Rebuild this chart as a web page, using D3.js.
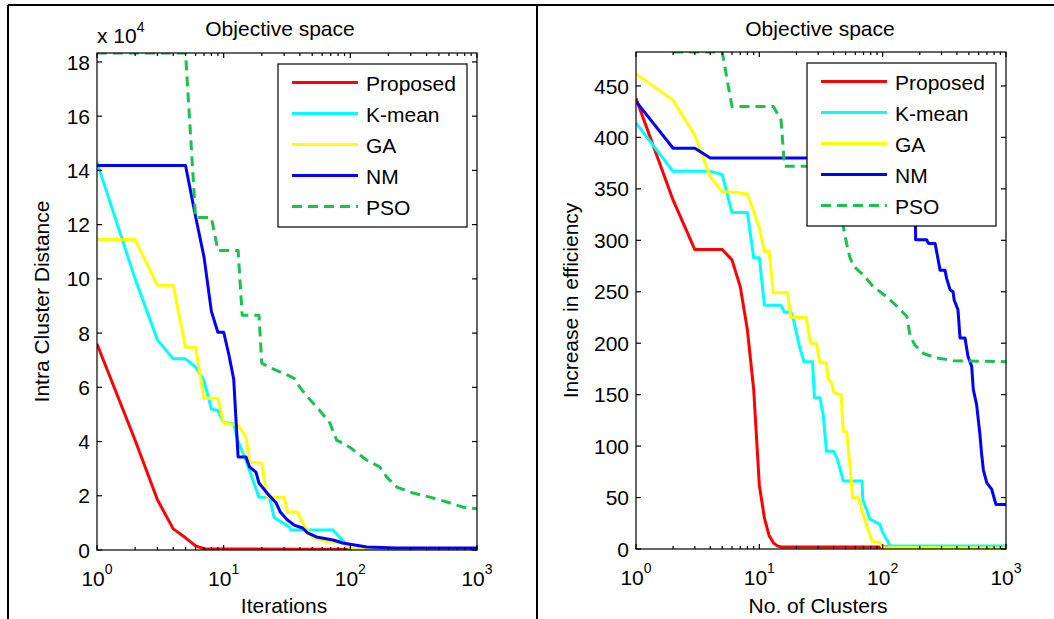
<!DOCTYPE html>
<html>
<head>
<meta charset="utf-8">
<script src="https://cdn.jsdelivr.net/npm/d3@7/dist/d3.min.js"></script>
<style>
    body { margin: 0; background: #ffffff; }
    svg text { font-family: "Liberation Sans", Arial, sans-serif; fill: #000; }
</style>
</head>
<body>
<div id="chart"></div>
<script>
/*jshint esversion: 6 */

// series shared by both panels
const seriesNames = ["Proposed", "K-mean", "GA", "NM", "PSO"];

// log x axis ticks
const xTicks = [1, 10, 100, 1000];
const xTickExponents = ["0", "1", "2", "3"];

const leftYTicks = [0, 2, 4, 6, 8, 10, 12, 14, 16, 18];
const rightYTicks = [0, 50, 100, 150, 200, 250, 300, 350, 400, 450];

// left panel: [iteration, intra cluster distance in units of 10^4]
const distProposed = [[1, 7.6], [2, 4.05], [3, 1.85], [4, 0.78], [5, 0.45], [6, 0.15], [7, 0.05], [10, 0.04], [40, 0.03], [1000, 0.02]];
const distKmean = [[1, 14.3], [2, 10.0], [3, 7.75], [4, 7.05], [5, 7.05], [6, 6.75], [7, 6.25], [8, 5.2], [9, 5.15], [10, 4.7], [12, 4.65], [13, 4.0], [15, 3.3], [19, 1.95], [23, 1.95], [25, 1.2], [33, 0.85], [34, 0.74], [73, 0.74], [87, 0.35], [100, 0.05], [1000, 0.05]];
const distGA = [[1, 11.45], [2, 11.45], [3, 9.76], [4, 9.76], [5, 7.48], [6, 7.48], [7, 5.6], [9, 5.6], [10, 4.68], [13, 4.6], [15, 4.16], [16, 3.24], [20, 3.2], [22, 1.95], [30, 1.95], [32, 1.4], [38, 1.4], [44, 0.85], [50, 0.48], [65, 0.3], [87, 0.26], [100, 0.07], [1000, 0.05]];
const distNM = [[1, 14.18], [5, 14.18], [6, 12.3], [7, 10.8], [8, 8.8], [9, 8.03], [10, 8.03], [11, 7.2], [12, 6.3], [13, 3.43], [15, 3.43], [16, 3.06], [18, 2.87], [19, 2.47], [22, 2.1], [26, 1.73], [28, 1.4], [32, 1.1], [36, 0.92], [42, 0.81], [46, 0.63], [54, 0.48], [73, 0.37], [87, 0.26], [135, 0.11], [233, 0.07], [1000, 0.07]];
const distPSO = [[1, 18.33], [5, 18.33], [6, 12.26], [8, 12.26], [9, 11.05], [13, 11.05], [14, 8.66], [19, 8.66], [20, 6.89], [24, 6.7], [32, 6.45], [36, 6.33], [40, 6.0], [46, 5.64], [57, 5.16], [69, 4.68], [78, 4.05], [99, 3.79], [135, 3.31], [171, 3.06], [194, 2.69], [233, 2.32], [313, 2.1], [424, 1.95], [578, 1.77], [775, 1.58], [1000, 1.52]];

// right panel: [number of clusters, increase in efficiency]
const effProposed = [[1, 438], [2, 339], [3, 291], [5, 291], [6, 281], [7, 255], [8, 213], [9, 155], [10, 62], [11, 30], [12, 13], [13, 6], [14, 3], [15, 2], [1000, 2]];
const effKmean = [[1, 414], [2, 367], [4, 367], [5, 364], [6, 327], [8, 327], [9, 283], [10, 283], [11, 237], [15, 237], [16, 230], [18, 230], [19, 222], [20, 210], [21, 198], [23, 182], [27, 182], [28, 147], [31, 147], [33, 130], [35, 95], [40, 95], [43, 87], [48, 66], [68, 66], [69, 48], [79, 29], [95, 24], [100, 16], [108, 9], [115, 3], [1000, 3]];
const effGA = [[1, 462], [2, 436], [3, 402], [4, 362], [5, 347], [6, 347], [8, 345], [9, 328], [10, 312], [11, 289], [12, 289], [13, 249], [17, 249], [18, 225], [24, 225], [26, 200], [29, 200], [31, 181], [35, 181], [36, 166], [39, 160], [40, 152], [46, 150], [48, 114], [51, 114], [54, 85], [57, 50], [63, 50], [69, 35], [76, 19], [82, 7.6], [95, 6], [100, 1.5], [1000, 1]];
const effNM = [[1, 435], [2, 389.5], [3, 389.5], [4, 380], [183, 380], [185, 300.5], [227, 300.5], [235, 297], [266, 297], [274, 289], [292, 271], [320, 271], [330, 263], [352, 252], [372, 250], [380, 242], [408, 232.5], [424, 205], [465, 205], [492, 187], [527, 177.5], [543, 155], [578, 140], [615, 111], [635, 92], [655, 77], [698, 64.6], [766, 58], [815, 46.4], [830, 43.2], [1000, 43.2]];
const effPSO = [[2, 483], [5, 483], [6, 430], [13, 430], [15, 417], [16, 372], [32, 372], [38, 345], [45, 325], [48, 313], [51, 297], [54, 284], [58, 275], [70, 266], [84, 255], [108, 245], [130, 236], [157, 226], [167, 207], [183, 198], [214, 190], [266, 186], [374, 183], [1000, 182]];

(function (window) {

    let colors = ["#ff0000", "#00ffff", "#ffff00", "#0000ff", "#19c24f"];
    let dashes = [null, null, null, null, "10,6"];
    let fontSize = 21;

    let svg = d3.select("#chart").append("svg")
        .attr("width", 1054)
        .attr("height", 619);

    // frame of the surrounding table
    svg.append("line").attr("x1", 8).attr("x2", 1054).attr("y1", 5).attr("y2", 5)
        .style("stroke", "#000").style("stroke-width", 2);
    svg.append("line").attr("x1", 8).attr("x2", 8).attr("y1", 5).attr("y2", 619)
        .style("stroke", "#000").style("stroke-width", 2);
    svg.append("line").attr("x1", 537).attr("x2", 537).attr("y1", 5).attr("y2", 619)
        .style("stroke", "#000").style("stroke-width", 2);

    function drawPanel(cfg) {

        let x = d3.scaleLog().domain([1, 1000]).range([cfg.left, cfg.right]);
        let y = d3.scaleLinear().domain([0, cfg.yMax]).range([cfg.bottom, cfg.top]);

        let g = svg.append("g");

        g.append("clipPath").attr("id", cfg.id + "-clip")
            .append("rect")
            .attr("x", cfg.left).attr("y", cfg.top)
            .attr("width", cfg.right - cfg.left)
            .attr("height", cfg.bottom - cfg.top);

        let line = d3.line()
            .x(function (d) { return x(d[0]); })
            .y(function (d) { return y(d[1]); });

        g.append("g")
            .attr("clip-path", "url(#" + cfg.id + "-clip)")
            .selectAll("path")
            .data(cfg.series)
            .enter().append("path")
            .attr("d", line)
            .style("fill", "none")
            .style("stroke", function (d, i) { return colors[i]; })
            .style("stroke-width", 3)
            .style("stroke-dasharray", function (d, i) { return dashes[i]; })
            .style("stroke-linejoin", "round");

        // box
        g.append("rect")
            .attr("x", cfg.left).attr("y", cfg.top)
            .attr("width", cfg.right - cfg.left)
            .attr("height", cfg.bottom - cfg.top)
            .style("fill", "none")
            .style("stroke", "#000")
            .style("stroke-width", 1.2);

        // y ticks inward on both sides
        let yt = g.selectAll(".ytick").data(cfg.yTicks).enter();
        yt.append("line")
            .attr("x1", cfg.left).attr("x2", cfg.left + 5)
            .attr("y1", function (d) { return y(d); })
            .attr("y2", function (d) { return y(d); })
            .style("stroke", "#000").style("stroke-width", 1.2);
        yt.append("line")
            .attr("x1", cfg.right).attr("x2", cfg.right - 5)
            .attr("y1", function (d) { return y(d); })
            .attr("y2", function (d) { return y(d); })
            .style("stroke", "#000").style("stroke-width", 1.2);
        yt.append("text")
            .attr("x", cfg.left - 7)
            .attr("y", function (d) { return y(d); })
            .attr("dy", "0.36em")
            .attr("text-anchor", "end")
            .style("font-size", fontSize + "px")
            .text(function (d) { return d; });

        // log x ticks, major and minor, top and bottom
        let minor = [];
        [1, 10, 100].forEach(function (p) {
            for (let m = 2; m <= 9; m++) minor.push(m * p);
        });
        let ticks = xTicks.map(function (d) { return { v: d, len: 5 }; })
            .concat(minor.map(function (d) { return { v: d, len: 3 }; }));
        let xt = g.selectAll(".xtick").data(ticks).enter();
        xt.append("line")
            .attr("x1", function (d) { return x(d.v); })
            .attr("x2", function (d) { return x(d.v); })
            .attr("y1", cfg.bottom)
            .attr("y2", function (d) { return cfg.bottom - d.len; })
            .style("stroke", "#000").style("stroke-width", 1.2);
        xt.append("line")
            .attr("x1", function (d) { return x(d.v); })
            .attr("x2", function (d) { return x(d.v); })
            .attr("y1", cfg.top)
            .attr("y2", function (d) { return cfg.top + d.len; })
            .style("stroke", "#000").style("stroke-width", 1.2);

        let xl = g.selectAll(".xlabel").data(xTicks).enter().append("text")
            .attr("x", function (d) { return x(d); })
            .attr("y", cfg.bottom + 36)
            .attr("text-anchor", "middle")
            .style("font-size", fontSize + "px");
        xl.append("tspan").text("10");
        xl.append("tspan")
            .attr("dy", -12)
            .style("font-size", "14px")
            .text(function (d, i) { return xTickExponents[i]; });

        // titles and axis labels
        g.append("text")
            .attr("x", cfg.titleX).attr("y", 36)
            .attr("text-anchor", "middle")
            .style("font-size", fontSize + "px")
            .text("Objective space");

        g.append("text")
            .attr("x", cfg.xLabelX).attr("y", 613)
            .attr("text-anchor", "middle")
            .style("font-size", fontSize + "px")
            .text(cfg.xLabel);

        g.append("text")
            .attr("transform", "translate(" + cfg.yLabelX + "," + ((cfg.top + cfg.bottom) / 2) + ") rotate(-90)")
            .attr("text-anchor", "middle")
            .style("font-size", fontSize + "px")
            .text(cfg.yLabel);

        if (cfg.exponent) {
            let ex = g.append("text")
                .attr("x", cfg.left).attr("y", 43)
                .style("font-size", fontSize + "px");
            ex.append("tspan").text("x 10");
            ex.append("tspan").attr("dy", -11).style("font-size", "14px").text(cfg.exponent);
        }

        // legend
        let lx = cfg.right - 199;
        let ly = cfg.top + 11;
        let legend = g.append("g").attr("transform", "translate(" + lx + "," + ly + ")");
        legend.append("rect")
            .attr("width", 189).attr("height", 163)
            .style("fill", "#fff")
            .style("stroke", "#000")
            .style("stroke-width", 1.2);
        let item = legend.selectAll(".item")
            .data(seriesNames)
            .enter().append("g")
            .attr("transform", function (d, i) { return "translate(0," + (18.5 + i * 31) + ")"; });
        item.append("line")
            .attr("x1", 14).attr("x2", 80)
            .style("stroke", function (d, i) { return colors[i]; })
            .style("stroke-width", 3)
            .style("stroke-dasharray", function (d, i) { return dashes[i]; });
        item.append("text")
            .attr("x", 88)
            .attr("y", 8)
            .style("font-size", fontSize + "px")
            .text(function (d) { return d; });
    }

    drawPanel({
        id: "left",
        left: 97, right: 477, top: 53, bottom: 550,
        yMax: 18.33,
        yTicks: leftYTicks,
        series: [distProposed, distKmean, distGA, distNM, distPSO],
        titleX: 280, xLabelX: 284, yLabelX: 49,
        xLabel: "Iterations",
        yLabel: "Intra Cluster Distance",
        exponent: "4"
    });

    drawPanel({
        id: "right",
        left: 636, right: 1006, top: 52, bottom: 549,
        yMax: 483,
        yTicks: rightYTicks,
        series: [effProposed, effKmean, effGA, effNM, effPSO],
        titleX: 820, xLabelX: 818, yLabelX: 578,
        xLabel: "No. of Clusters",
        yLabel: "Increase in efficiency",
        exponent: null
    });

})(window);
</script>
</body>
</html>
